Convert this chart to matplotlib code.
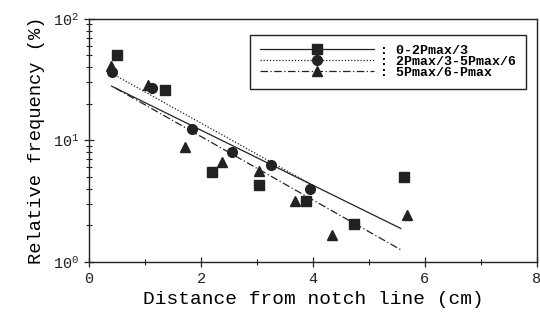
import matplotlib
matplotlib.use("Agg")
import matplotlib.pyplot as plt
from matplotlib.ticker import LogLocator, MultipleLocator

plt.rcParams['font.family'] = ['Liberation Mono', 'DejaVu Sans Mono']
plt.rcParams['mathtext.fontset'] = 'custom'
plt.rcParams['mathtext.rm'] = 'Liberation Mono'
plt.rcParams['mathtext.it'] = 'Liberation Mono'

# --- data

sq_x = [0.50, 1.35, 2.19, 3.04, 3.88, 4.73, 5.63]
sq_y = [50.0, 26.2, 5.46, 4.29, 3.15, 2.04, 5.04]

ci_x = [0.41, 1.13, 1.84, 2.55, 3.25, 3.95]
ci_y = [36.8, 27.1, 12.4, 8.09, 6.31, 3.97]

tr_x = [0.40, 1.06, 1.72, 2.37, 3.03, 3.68, 4.34, 5.69]
tr_y = [40.9, 28.4, 8.9, 6.7, 5.57, 3.18, 1.68, 2.46]

# fitted lines (end points)
fit_sq_x = [0.40, 5.57]
fit_sq_y = [28.0, 1.89]
fit_ci_x = [0.41, 3.95]
fit_ci_y = [35.5, 4.4]
fit_tr_x = [0.47, 5.60]
fit_tr_y = [27.0, 1.24]

labels = [": 0-2Pmax/3", ": 2Pmax/3-5Pmax/6", ": 5Pmax/6-Pmax"]

# --- figure

fig = plt.figure(figsize=(5.4, 3.2), dpi=100)
ax = fig.add_axes([0.165, 0.181, 0.829, 0.760])

ms = 7
dotted = (0, (1, 1.5))
dashdot = (0, (6, 2, 1, 2))
ax.plot(fit_sq_x, fit_sq_y, color='#222222', lw=0.9, ls='-')
ax.plot(fit_ci_x, fit_ci_y, color='#222222', lw=0.9, ls=dotted)
ax.plot(fit_tr_x, fit_tr_y, color='#222222', lw=0.9, ls=dashdot)

ax.plot(sq_x, sq_y, 's', color='#222222', ms=ms, ls='none')
ax.plot(ci_x, ci_y, 'o', color='#222222', ms=ms, ls='none')
ax.plot(tr_x, tr_y, '^', color='#222222', ms=ms, ls='none')

# legend proxies: line with marker in the middle
h1, = ax.plot([], [], color='#222222', lw=0.9, ls='-', marker='s', ms=ms)
h2, = ax.plot([], [], color='#222222', lw=0.9, ls=dotted, marker='o', ms=ms)
h3, = ax.plot([], [], color='#222222', lw=0.9, ls=dashdot, marker='^', ms=ms)
leg = ax.legend([h1, h2, h3], labels, loc='upper right',
                bbox_to_anchor=(0.976, 0.935), handlelength=8.6,
                handletextpad=0.5, labelspacing=-0.1, borderpad=0.75,
                borderaxespad=0, fancybox=False, framealpha=1,
                edgecolor='#222222',
                prop={'family': 'Liberation Mono', 'size': 9.5, 'weight': 'bold'})
leg.get_frame().set_linewidth(1.0)

ax.set_yscale('log')
ax.set_xlim(0, 8)
ax.set_ylim(1, 100)
ax.xaxis.set_major_locator(MultipleLocator(2))
ax.xaxis.set_minor_locator(MultipleLocator(1))
ax.yaxis.set_major_locator(LogLocator(base=10))
ax.yaxis.set_minor_locator(LogLocator(base=10, subs=range(2, 10)))

ax.tick_params(which='both', direction='inout', colors='#222222', labelsize=11)
ax.tick_params(which='major', length=7, width=0.9)
ax.tick_params(which='minor', length=4, width=0.8)
for s in ax.spines.values():
    s.set_color('#222222')
    s.set_linewidth(1.0)

ax.set_xlabel("Distance from notch line (cm)", fontsize=14, labelpad=4)
ax.set_ylabel("Relative frequency (%)", fontsize=13.5, labelpad=6)

fig.savefig("out.png", dpi=100)
